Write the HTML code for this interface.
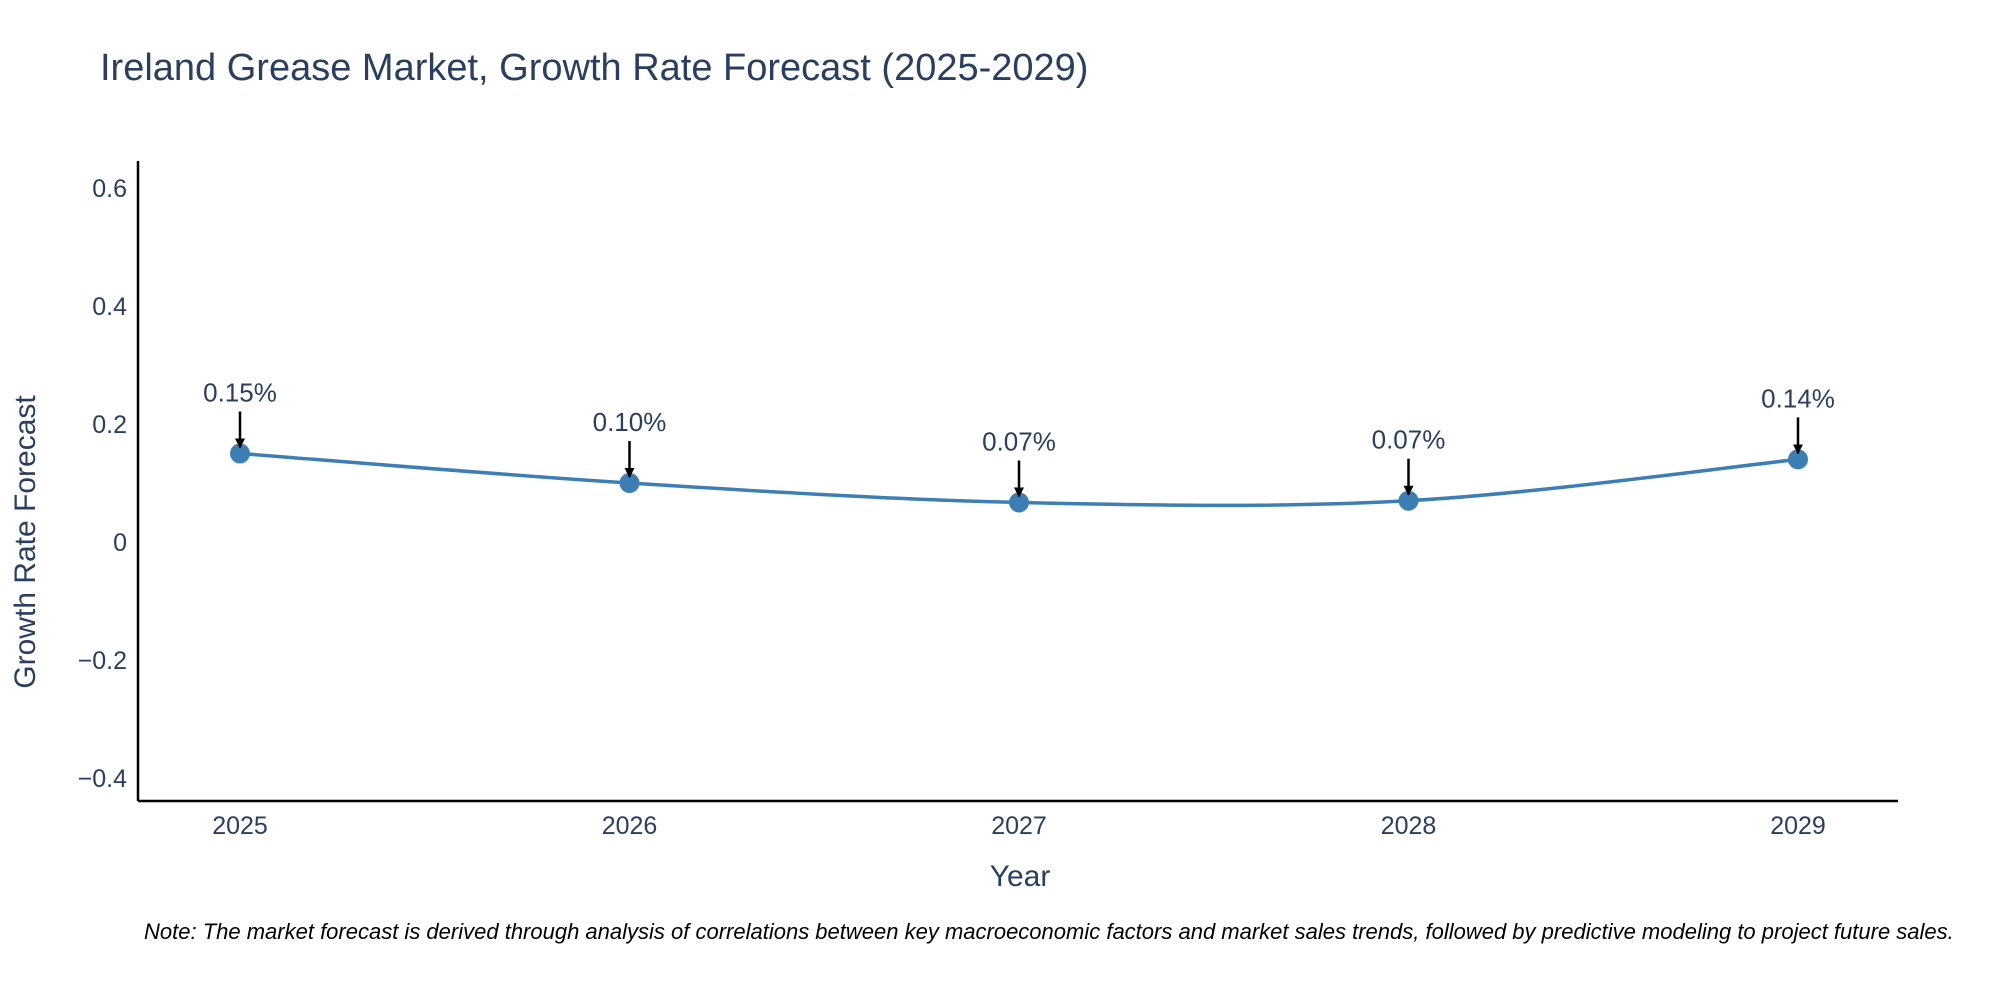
<!DOCTYPE html>
<html><head><meta charset="utf-8"><style>
body{margin:0;background:#fff;}
svg text{font-family:"Liberation Sans",sans-serif;fill:#2a3f5f;}
</style></head><body>
<svg width="2000" height="1000">
<defs><marker id="ah" viewBox="0 0 10 10" refX="9" refY="5" markerWidth="4" markerHeight="4" orient="auto"><path d="M0,0L10,5L0,10z" fill="#000"/></marker></defs>
<text x="100" y="80" font-size="38">Ireland Grease Market, Growth Rate Forecast (2025-2029)</text>
<g id="yt"></g><g id="xt"></g>
<line x1="138" y1="161" x2="138" y2="801" stroke="#000" stroke-width="2.5"/>
<line x1="138" y1="801" x2="1898" y2="801" stroke="#000" stroke-width="2.5"/>
<text x="1020" y="886" font-size="30" text-anchor="middle">Year</text>
<text transform="translate(35,542) rotate(-90)" font-size="30" text-anchor="middle">Growth Rate Forecast</text>
<g id="plot"></g>
<text x="144" y="939" font-size="22" font-style="italic" style="fill:#000">Note: The market forecast is derived through analysis of correlations between key macroeconomic factors and market sales trends, followed by predictive modeling to project future sales.</text>
</svg>
<script>
const years=["2025","2026","2027","2028","2029"];
const values=[0.15,0.10,0.067,0.07,0.14];
const labels=["0.15%","0.10%","0.07%","0.07%","0.14%"];
const yTicks=[0.6,0.4,0.2,0,-0.2,-0.4];
const yTickLabels=["0.6","0.4","0.2","0","−0.2","−0.4"];
const NS="http://www.w3.org/2000/svg";
const xs=i=>240+i*389.5;
const ys=v=>542-v*590;
function mk(t,a,p){const e=document.createElementNS(NS,t);for(const k in a)e.setAttribute(k,a[k]);p.appendChild(e);return e;}
const yt=document.getElementById('yt');
yTicks.forEach((v,i)=>{const t=mk('text',{x:127,y:ys(v)+9,'font-size':25,'text-anchor':'end'},yt);t.textContent=yTickLabels[i];

});
const xt=document.getElementById('xt');
years.forEach((y,i)=>{const t=mk('text',{x:xs(i),y:834,'font-size':25,'text-anchor':'middle'},xt);t.textContent=y;

});
const plot=document.getElementById('plot');
const P=values.map((v,i)=>[xs(i),ys(v)]);
let d=`M${P[0][0]},${P[0][1]}`;
for(let i=0;i<P.length-1;i++){const p0=P[i-1]||P[i],p1=P[i],p2=P[i+1],p3=P[i+2]||P[i+1];
d+=` C${p1[0]+(p2[0]-p0[0])/6},${p1[1]+(p2[1]-p0[1])/6} ${p2[0]-(p3[0]-p1[0])/6},${p2[1]-(p3[1]-p1[1])/6} ${p2[0]},${p2[1]}`;}
const line=mk('path',{d:d,fill:'none',stroke:'#3d7fb4','stroke-width':3.5},plot);


P.forEach((p,i)=>{const c=mk('circle',{cx:p[0],cy:p[1],r:10,fill:'#3d7fb4'},plot);


const a=mk('line',{x1:p[0],y1:p[1]-42,x2:p[0],y2:p[1]-6,stroke:'#000','stroke-width':2.5,'marker-end':'url(#ah)'},plot);


const t=mk('text',{x:p[0],y:p[1]-52,'font-size':26,'text-anchor':'middle'},plot);t.textContent=labels[i];

});
</script>
</body></html>
